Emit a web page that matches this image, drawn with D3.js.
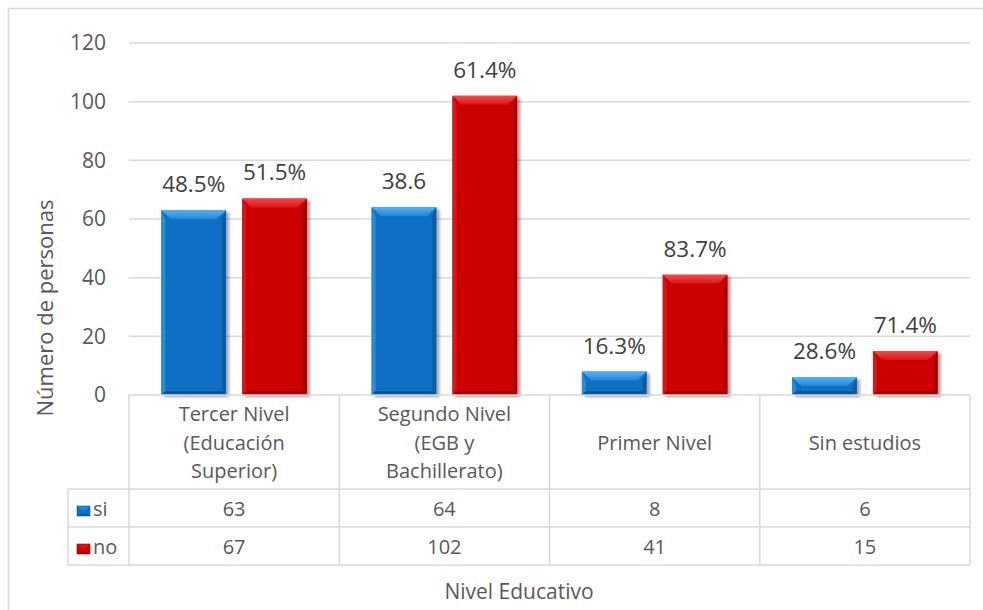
<!DOCTYPE html>
<html>
<head>
<meta charset="utf-8">
<script src="https://cdn.jsdelivr.net/npm/d3@7"></script>
<style>
  html, body { margin: 0; padding: 0; background: #ffffff; }
  svg { display: block; font-family: "Open Sans", "Noto Sans", sans-serif; }
</style>
</head>
<body>
<svg id="chart" width="983" height="610"></svg>
<script>
// Education level categories (header lines of the data table)
const categories = ["Tercer Nivel (Educación Superior)", "Segundo Nivel (EGB y Bachillerato)", "Primer Nivel", "Sin estudios"];
const categoryLines = [
  ["Tercer Nivel", "(Educación", "Superior)"],
  ["Segundo Nivel", "(EGB y", "Bachillerato)"],
  ["Primer Nivel"],
  ["Sin estudios"]
];
const seriesNames = ["si", "no"];
const siValues = [63, 64, 8, 6];
const noValues = [67, 102, 41, 15];
const siLabels = ["48.5%", "38.6", "16.3%", "28.6%"];
const noLabels = ["51.5%", "61.4%", "83.7%", "71.4%"];
const yTicks = [0, 20, 40, 60, 80, 100, 120];
const yTitle = "Número de personas";
const xTitle = "Nivel Educativo";

const seriesValues = { si: siValues, no: noValues };
const seriesLabels = { si: siLabels, no: noLabels };

const palette = {
  si: { main: "#0b6fc2", topHi: "#5ab0f0", topLo: "#1c86d8", left: "#2a8bd8", right: "#0a5ba3", bottom: "#095796" },
  no: { main: "#cc0000", topHi: "#f24a4a", topLo: "#d91515", left: "#d91818", right: "#a80000", bottom: "#a00000" }
};

const svg = d3.select("#chart");
const plotLeft = 129, plotRight = 970, plotTop = 43, plotBottom = 395;
const tableLeft = 68;
const headerBottom = 489, rowH = 38;
const gridColor = "#d9d9d9";
const textColor = "#595959";

// Outer chart frame (runs off the right and bottom edges)
svg.append("rect")
  .attr("x", 8.5).attr("y", 8.5)
  .attr("width", 1000).attr("height", 640)
  .attr("fill", "none").attr("stroke", gridColor).attr("stroke-width", 1.5);

const y = d3.scaleLinear().domain([0, 120]).range([plotBottom, plotTop]);
const x0 = d3.scaleBand().domain(categories).range([plotLeft, plotRight]).padding(0);
const x1 = d3.scaleBand().domain(seriesNames).range([0, x0.bandwidth()])
  .paddingInner(0.2).paddingOuter(0.4);

// Gridlines
svg.append("g").selectAll("line")
  .data(yTicks.filter(d => d > 0))
  .join("line")
  .attr("x1", plotLeft).attr("x2", plotRight)
  .attr("y1", d => y(d)).attr("y2", d => y(d))
  .attr("stroke", gridColor).attr("stroke-width", 1.5);

// Y axis tick labels
const yAxis = d3.axisLeft(y).tickValues(yTicks).tickSize(0).tickPadding(0);
const yg = svg.append("g").attr("transform", `translate(106,0)`).call(yAxis);
yg.select(".domain").remove();
yg.selectAll("text")
  .attr("fill", textColor)
  .style("font-size", "21px")
  .style("font-family", "'Open Sans', sans-serif");

// Y axis title
svg.append("text")
  .attr("transform", `translate(44, ${(plotTop + headerBottom + 2 * rowH) / 2 + 4}) rotate(-90)`)
  .attr("text-anchor", "middle")
  .attr("dominant-baseline", "central")
  .attr("fill", textColor)
  .style("font-size", "22px")
  .text(yTitle);

// Bar drop shadow
const defs = svg.append("defs");
const shadow = defs.append("filter").attr("id", "barShadow")
  .attr("x", "-20%").attr("y", "-10%").attr("width", "150%").attr("height", "130%");
shadow.append("feGaussianBlur").attr("in", "SourceAlpha").attr("stdDeviation", 1.8).attr("result", "blur");
shadow.append("feOffset").attr("in", "blur").attr("dx", 2.5).attr("dy", 1.5).attr("result", "off");
shadow.append("feComponentTransfer").attr("in", "off").attr("result", "soft")
  .append("feFuncA").attr("type", "linear").attr("slope", 0.35);
const merge = shadow.append("feMerge");
merge.append("feMergeNode").attr("in", "soft");
merge.append("feMergeNode").attr("in", "SourceGraphic");

seriesNames.forEach(s => {
  const g = defs.append("linearGradient").attr("id", "top-" + s)
    .attr("x1", 0).attr("y1", 0).attr("x2", 0).attr("y2", 1);
  g.append("stop").attr("offset", "0%").attr("stop-color", palette[s].topHi);
  g.append("stop").attr("offset", "100%").attr("stop-color", palette[s].topLo);
});

// Bars with bevelled edges
const bars = [];
categories.forEach((c, i) => {
  seriesNames.forEach(s => {
    bars.push({ cat: c, series: s, value: seriesValues[s][i], label: seriesLabels[s][i] });
  });
});

const barG = svg.append("g").selectAll("g").data(bars).join("g")
  .attr("filter", "url(#barShadow)");

barG.each(function(d) {
  const g = d3.select(this);
  const bx = x0(d.cat) + x1(d.series);
  const bw = x1.bandwidth();
  const by = y(d.value);
  const bh = y(0) - by;
  const col = palette[d.series];
  const tb = Math.min(9, bh / 2), sb = Math.min(4, bw / 4), bb = Math.min(4, bh / 3);
  g.append("rect").attr("x", bx).attr("y", by).attr("width", bw).attr("height", bh).attr("fill", col.main);
  // left strip
  g.append("polygon")
    .attr("points", [[bx, by], [bx + sb, by + tb], [bx + sb, by + bh - bb], [bx, by + bh]].map(p => p.join(",")).join(" "))
    .attr("fill", col.left);
  // right strip
  g.append("polygon")
    .attr("points", [[bx + bw, by], [bx + bw - sb, by + tb], [bx + bw - sb, by + bh - bb], [bx + bw, by + bh]].map(p => p.join(",")).join(" "))
    .attr("fill", col.right);
  // bottom strip
  g.append("polygon")
    .attr("points", [[bx, by + bh], [bx + sb, by + bh - bb], [bx + bw - sb, by + bh - bb], [bx + bw, by + bh]].map(p => p.join(",")).join(" "))
    .attr("fill", col.bottom);
  // top bevel
  g.append("polygon")
    .attr("points", [[bx, by], [bx + bw, by], [bx + bw - sb - tb * 0.6, by + tb], [bx + sb + tb * 0.6, by + tb]].map(p => p.join(",")).join(" "))
    .attr("fill", `url(#top-${d.series})`);
});

// Value labels above bars
svg.append("g").selectAll("text").data(bars).join("text")
  .attr("x", d => x0(d.cat) + x1(d.series) + x1.bandwidth() / 2)
  .attr("y", d => y(d.value) - 18)
  .attr("text-anchor", "middle")
  .attr("fill", "#404040")
  .style("font-size", "22.5px")
  .text(d => d.label);

// Data table
const table = svg.append("g").attr("stroke", gridColor).attr("stroke-width", 1.5);
const tableBottom = headerBottom + 2 * rowH;
table.append("line").attr("x1", plotLeft).attr("x2", plotRight).attr("y1", plotBottom).attr("y2", plotBottom);
[headerBottom, headerBottom + rowH, tableBottom].forEach(yy => {
  table.append("line").attr("x1", tableLeft).attr("x2", plotRight).attr("y1", yy).attr("y2", yy);
});
table.append("line").attr("x1", tableLeft).attr("x2", tableLeft).attr("y1", headerBottom).attr("y2", tableBottom);
categories.forEach(c => {
  table.append("line").attr("x1", x0(c)).attr("x2", x0(c)).attr("y1", plotBottom).attr("y2", tableBottom);
});
table.append("line").attr("x1", plotRight).attr("x2", plotRight).attr("y1", plotBottom).attr("y2", tableBottom);

// Category headers
const headerMid = (plotBottom + headerBottom) / 2;
categories.forEach((c, i) => {
  const lines = categoryLines[i];
  lines.forEach((ln, j) => {
    svg.append("text")
      .attr("x", x0(c) + x0.bandwidth() / 2)
      .attr("y", headerMid + (j - (lines.length - 1) / 2) * 28.5)
      .attr("text-anchor", "middle")
      .attr("dominant-baseline", "central")
      .attr("fill", textColor)
      .style("font-size", "20px")
      .text(ln);
  });
});

// Table rows: legend key + values
seriesNames.forEach((s, r) => {
  const rowMid = headerBottom + rowH * r + rowH / 2;
  const col = palette[s];
  const kx = 77, ky = rowMid - 2, kw = 13, kh = 10;
  // bevelled legend key: four facets around a small centre
  svg.append("rect").attr("x", kx).attr("y", ky).attr("width", kw).attr("height", kh).attr("fill", col.main);
  svg.append("polygon")
    .attr("points", `${kx},${ky} ${kx + kw},${ky} ${kx + kw - 4},${ky + 4} ${kx + 4},${ky + 4}`)
    .attr("fill", col.topLo);
  svg.append("polygon")
    .attr("points", `${kx},${ky + kh} ${kx + kw},${ky + kh} ${kx + kw - 3},${ky + kh - 2} ${kx + 3},${ky + kh - 2}`)
    .attr("fill", col.bottom);
  svg.append("rect").attr("x", kx).attr("y", ky).attr("width", kw).attr("height", kh)
    .attr("fill", "none").attr("stroke", col.right).attr("stroke-width", 0.6);
  svg.append("text")
    .attr("x", 93).attr("y", rowMid)
    .attr("dominant-baseline", "central")
    .attr("fill", textColor)
    .style("font-size", "20px")
    .text(s);
  categories.forEach((c, i) => {
    svg.append("text")
      .attr("x", x0(c) + x0.bandwidth() / 2)
      .attr("y", rowMid)
      .attr("text-anchor", "middle")
      .attr("dominant-baseline", "central")
      .attr("fill", textColor)
      .style("font-size", "20px")
      .text(seriesValues[s][i]);
  });
});

// X axis title
svg.append("text")
  .attr("x", (tableLeft + plotRight) / 2)
  .attr("y", 591)
  .attr("text-anchor", "middle")
  .attr("dominant-baseline", "central")
  .attr("fill", textColor)
  .style("font-size", "21px")
  .text(xTitle);
</script>
</body>
</html>
